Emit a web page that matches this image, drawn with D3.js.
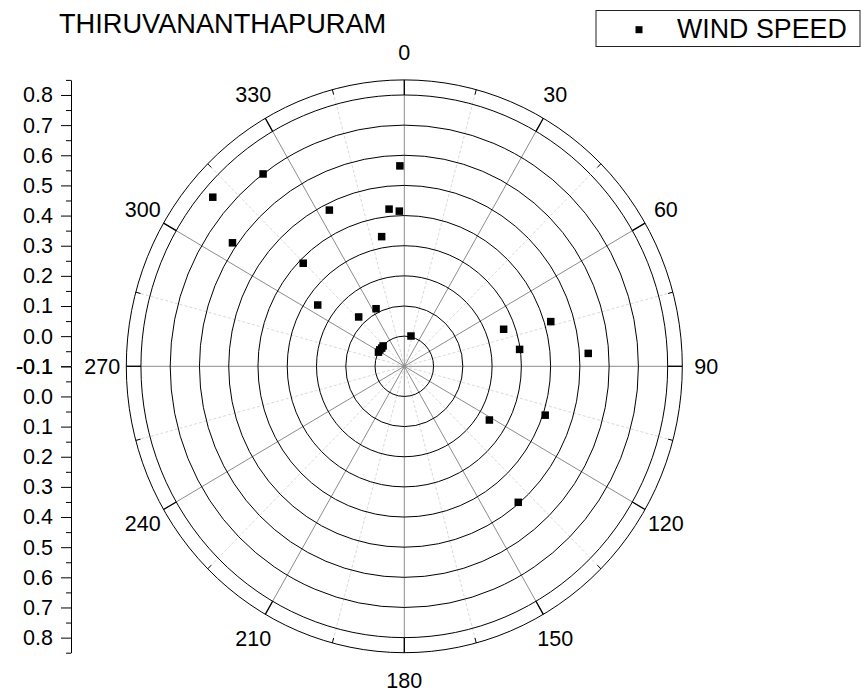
<!DOCTYPE html>
<html>
<head>
<meta charset="utf-8">
<script src="https://cdn.jsdelivr.net/npm/d3@7"></script>
<style>
    body { margin: 0; background: #fff; }
    svg { display: block; font-family: "Liberation Sans", Arial, sans-serif; }
</style>
</head>
<body>
<svg id="chart" width="861" height="693"></svg>
<script>
// Data (angle in degrees clockwise from north, wind speed)
const angles = [358.7, 322.9, 310.6, 333.7, 354.3, 358.1, 304.9, 349.8, 314.7, 304.5,
    316.4, 333.2, 12.8, 298, 303, 308, 313, 70.1, 73.5, 81.9, 86.1, 121.5, 108.6, 139.2];
const speeds = [0.565, 0.700, 0.762, 0.478, 0.424, 0.415, 0.616, 0.337, 0.386, 0.259,
    0.126, 0.114, 0.003, 0.0, 0.0, -0.002, -0.001, 0.261, 0.422, 0.298, 0.530, 0.241, 0.408, 0.496];
const angleTicks = [0, 30, 60, 90, 120, 150, 180, 210, 240, 270, 300, 330];
const angleMinor = [15, 45, 75, 105, 135, 165, 195, 225, 255, 285, 315, 345];
const radialTicks = [-0.1, 0.0, 0.1, 0.2, 0.3, 0.4, 0.5, 0.6, 0.7, 0.8];
const radialMinor = [-0.05, 0.05, 0.15, 0.25, 0.35, 0.45, 0.55, 0.65, 0.75, 0.85];
const chartTitle = 'THIRUVANANTHAPURAM';
const seriesName = 'WIND SPEED';

const svg = d3.select('#chart');
const cx = 404.3, cy = 366.3;
const rMin = -0.1, rMax = 0.85;
const RX = 278, RY = 286.4;

const rx = d3.scaleLinear().domain([rMin, rMax]).range([0, RX]);
const ry = d3.scaleLinear().domain([rMin, rMax]).range([0, RY]);
const rad = a => a * Math.PI / 180;
const px = (a, v) => cx + rx(v) * Math.sin(rad(a));
const py = (a, v) => cy - ry(v) * Math.cos(rad(a));

const grid = svg.append('g');

// minor spokes (light dashed)
grid.selectAll('.minor-spoke').data(angleMinor).enter().append('line')
    .attr('x1', cx).attr('y1', cy)
    .attr('x2', d => px(d, rMax)).attr('y2', d => py(d, rMax))
    .attr('stroke', '#d9d9d9').attr('stroke-width', 1).attr('stroke-dasharray', '3,2');

// major spokes (gray)
grid.selectAll('.major-spoke').data(angleTicks).enter().append('line')
    .attr('x1', cx).attr('y1', cy)
    .attr('x2', d => px(d, rMax)).attr('y2', d => py(d, rMax))
    .attr('stroke', '#8c8c8c').attr('stroke-width', 1);

// circles
grid.selectAll('ellipse').data(radialTicks.filter(d => d > rMin).concat([rMax])).enter().append('ellipse')
    .attr('cx', cx).attr('cy', cy)
    .attr('rx', d => rx(d)).attr('ry', d => ry(d))
    .attr('fill', 'none').attr('stroke', '#000').attr('stroke-width', 1);

// ticks on the outer ring
grid.selectAll('.major-tick').data(angleTicks).enter().append('line')
    .attr('x1', d => px(d, 0.8)).attr('y1', d => py(d, 0.8))
    .attr('x2', d => px(d, rMax)).attr('y2', d => py(d, rMax))
    .attr('stroke', '#000').attr('stroke-width', 1.3);
grid.selectAll('.minor-tick').data(angleMinor).enter().append('line')
    .attr('x1', d => px(d, rMax - 0.017)).attr('y1', d => py(d, rMax - 0.017))
    .attr('x2', d => px(d, rMax)).attr('y2', d => py(d, rMax))
    .attr('stroke', '#000').attr('stroke-width', 1);

// angle labels
svg.append('g').selectAll('text').data(angleTicks).enter().append('text')
    .attr('x', d => cx + (RX + 24) * Math.sin(rad(d)))
    .attr('y', d => cy - (RY + 28) * Math.cos(rad(d)) + 7.7)
    .attr('text-anchor', 'middle')
    .attr('font-size', '21.5px')
    .attr('fill', '#000')
    .text(d => d);

// left radial axis (mirrored)
const axisX = 71;
const yTop = d3.scaleLinear().domain([rMin, rMax]).range([cy, cy - RY]);
const yBot = d3.scaleLinear().domain([rMin, rMax]).range([cy, cy + RY]);
const fmt = d => d.toFixed(1);

[yTop, yBot].forEach(sc => {
    const major = svg.append('g').attr('transform', `translate(${axisX},0)`)
        .call(d3.axisLeft(sc).tickValues(radialTicks).tickSize(10).tickSizeOuter(0)
            .tickPadding(8).tickFormat(fmt));
    major.selectAll('text').attr('font-size', '21.5px').attr('font-family', '"Liberation Sans", Arial, sans-serif')
        .attr('fill', '#000');
    major.selectAll('line, path').attr('stroke', '#000');
    const minor = svg.append('g').attr('transform', `translate(${axisX},0)`)
        .call(d3.axisLeft(sc).tickValues(radialMinor).tickSize(5).tickSizeOuter(0).tickFormat(''));
    minor.select('.domain').remove();
    minor.selectAll('line').attr('stroke', '#000');
});

// points
const pts = angles.map((a, i) => ({ a, v: speeds[i] }));
const ms = 7.5;
svg.append('g').selectAll('rect').data(pts).enter().append('rect')
    .attr('x', d => px(d.a, d.v) - ms / 2)
    .attr('y', d => py(d.a, d.v) - ms / 2)
    .attr('width', ms).attr('height', ms)
    .attr('fill', '#000');

// title
svg.append('text')
    .attr('x', 59).attr('y', 33)
    .attr('font-size', '27.2px')
    .attr('fill', '#000')
    .text(chartTitle);

// legend
const lg = svg.append('g');
lg.append('rect')
    .attr('x', 596).attr('y', 10.5).attr('width', 264).attr('height', 36)
    .attr('fill', '#fff').attr('stroke', '#222').attr('stroke-width', 1);
lg.append('rect')
    .attr('x', 639 - 3.5).attr('y', 29.7 - 3.5).attr('width', 7).attr('height', 7)
    .attr('fill', '#000');
lg.append('text')
    .attr('x', 677).attr('y', 38)
    .attr('font-size', '26.8px')
    .attr('fill', '#000')
    .text(seriesName);
</script>
</body>
</html>
